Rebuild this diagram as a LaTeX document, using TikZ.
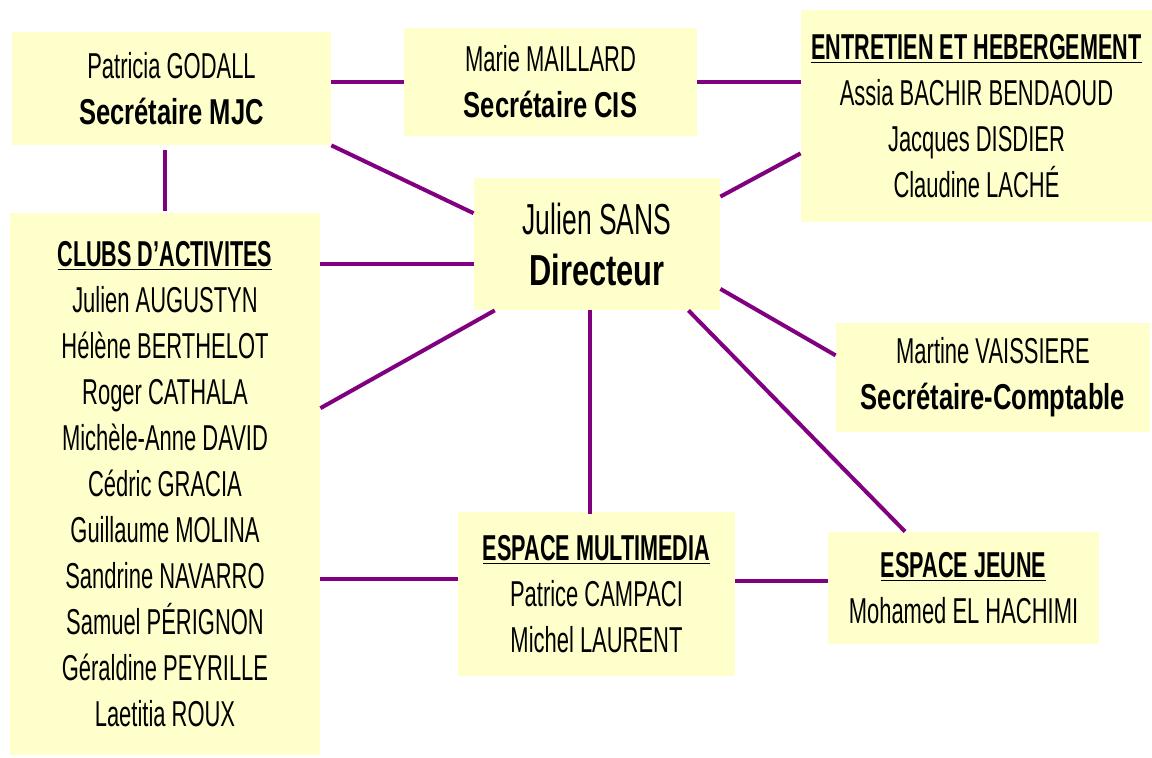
\documentclass[tikz,border=0pt]{standalone}
\usepackage{fontspec}
\setmainfont[FakeStretch=0.61, BoldFeatures={FakeStretch=0.71}]{Liberation Sans}
\newfontfamily\titre[FakeStretch=0.6]{Liberation Sans Bold}
\definecolor{boxjaune}{HTML}{FFFFCC}
\definecolor{lien}{HTML}{800080}
\begin{document}
\begin{tikzpicture}[x=0.5pt, y=-0.5pt,
    main/.style = {fill=boxjaune, align=center, inner sep=0pt,
                   font=\fontsize{18}{23}\selectfont},
    lien/.style = {draw=lien, line width=2pt}]
    % Les cases de l'organigramme
    \useasboundingbox (0,0) rectangle (1152,758);

    \node[main, minimum width=159.5pt, minimum height=56.5pt] (1) at (171.5,88.5)
        {Patricia GODALL\\\textbf{Secrétaire MJC}};
    \node[main, minimum width=146.5pt, minimum height=54pt] (2) at (550.5,82)
        {Marie MAILLARD\\\textbf{Secrétaire CIS}};
    \node[main, minimum width=175.5pt, minimum height=106pt] (3) at (976.5,116)
        {{\titre\underline{ENTRETIEN ET HEBERGEMENT}}\\Assia BACHIR BENDAOUD\\Jacques DISDIER\\Claudine LACHÉ};
    \node[main, minimum width=123pt, minimum height=66pt, font=\fontsize{21.7}{25.5}\selectfont] (0) at (597,244)
        {Julien SANS\\\textbf{Directeur}};
    \node[main, minimum width=155pt, minimum height=271pt] (4) at (165,484)
        {{\titre\underline{CLUBS D’ACTIVITES}}\\Julien AUGUSTYN\\Hélène BERTHELOT\\Roger CATHALA\\Michèle-Anne DAVID\\Cédric GRACIA\\Guillaume MOLINA\\Sandrine NAVARRO\\Samuel PÉRIGNON\\Géraldine PEYRILLE\\Laetitia ROUX};
    \node[main, minimum width=157pt, minimum height=54.5pt] (5) at (993,377.5)
        {Martine VAISSIERE\\\textbf{Secrétaire-Comptable}};
    \node[main, minimum width=138.5pt, minimum height=82pt] (6) at (596.5,594)
        {{\titre\underline{ESPACE MULTIMEDIA}}\\Patrice CAMPACI\\Michel LAURENT};
    \node[main, minimum width=135.5pt, minimum height=56pt] (7) at (963.5,588)
        {{\titre\underline{ESPACE JEUNE}}\\Mohamed EL HACHIMI};

    \draw[lien] (1.east |- 2.west) to (2.west);
    \draw[lien] (2.east) to (2.east -| 3.west);
    \draw[lien] (1.south east) to (0.166);
    \draw[lien] ([yshift=-2.5pt]4.north |- 1.south) to ([yshift=1pt]4.north);
    \draw[lien] (0.189 -| 4.east) to (0.189);
    \draw[lien] (4.26) to (0.213);
    \draw[lien] (0.21) to (3.192);
    \draw[lien] (0.340) to (5.172);
    \draw[lien] ([xshift=-3.5pt]0.south) to ([xshift=-3.5pt, yshift=-1pt]0.south |- 6.north);
    \draw[lien] (0.324) to (7.136);
    \draw[lien] (4.east |- 6.174) to (6.174);
    \draw[lien] (6.east |- 7.177) to (7.177);

\end{tikzpicture}
\end{document}
